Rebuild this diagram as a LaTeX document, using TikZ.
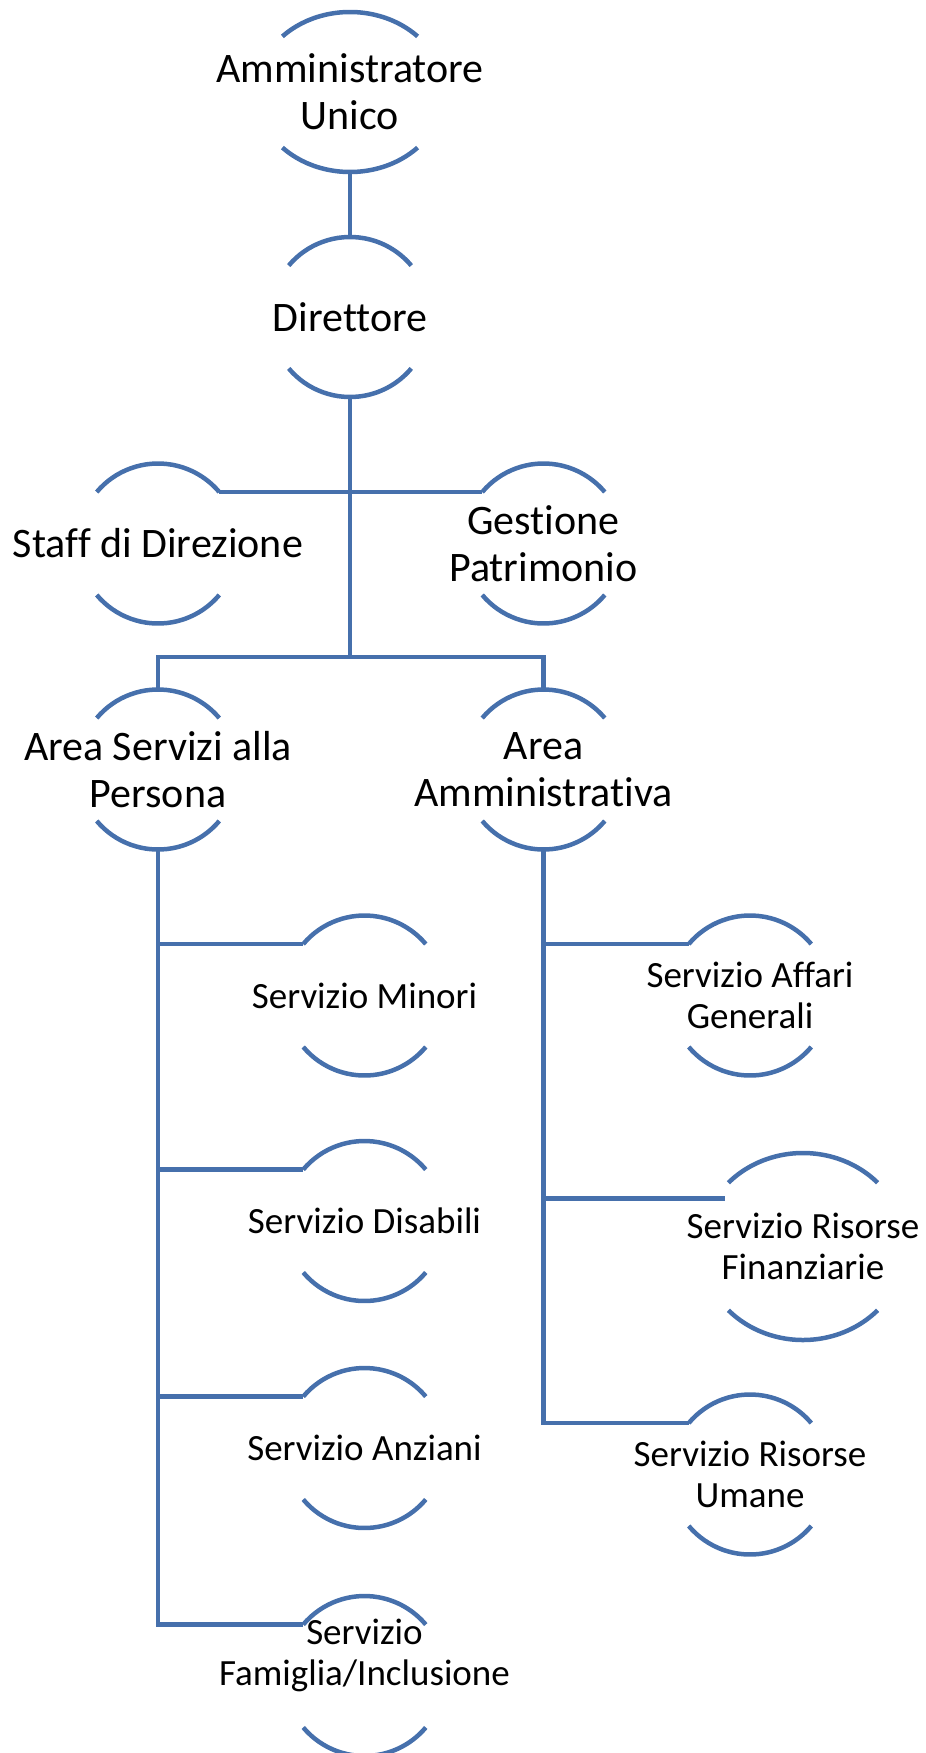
\documentclass[tikz,border=0pt]{standalone}
\usepackage{fontspec}
\setmainfont{Carlito}[Ligatures=NoCommon]
\usetikzlibrary{calc}

\definecolor{orgblue}{RGB}{70,112,172}

\tikzset{
  orgline/.style={line width=4.5pt, orgblue},
  unit/.style={font=\fontsize{42}{47}\selectfont, align=center, inner sep=0pt},
  service/.style={font=\fontsize{37}{41}\selectfont, align=center, inner sep=0pt}
}

% arcs of a unit: name, centre, x radius, y radius, angle
\newcommand{\unitarcs}[5]{%
  \coordinate (#1-c) at #2;
  \draw[orgline] ($(#1-c)+(180-#5:#3 and #4)$) coordinate (#1-tl)
    arc[start angle=180-#5, end angle=#5, x radius=#3, y radius=#4] coordinate (#1-tr);
  \draw[orgline] ($(#1-c)+(180+#5:#3 and #4)$)
    arc[start angle=180+#5, end angle=360-#5, x radius=#3, y radius=#4];
  \coordinate (#1-top) at ($(#1-c)+(0,#4)$);
  \coordinate (#1-bot) at ($(#1-c)+(0,-#4)$);
}

\begin{document}
\begin{tikzpicture}[x=1pt, y=1pt]
    \useasboundingbox (0,0) rectangle (926,-1753);

    % Vertice
    \node[unit] (amm) at (350,-92) {Amministratore\\Unico};
    \unitarcs{amm}{(amm.center)}{94}{80}{44}
    \node[unit] (dir) at (350,-317) {Direttore};
    \unitarcs{dir}{(dir.center)}{80}{80}{40}

    % Staff
    \node[unit] (staff) at (158,-543.5) {Staff di Direzione};
    \unitarcs{staff}{(staff.center)}{80}{80}{40}
    \node[unit] (gest) at (543.5,-543.5) {Gestione\\Patrimonio};
    \unitarcs{gest}{(gest.center)}{80}{80}{40}

    % Aree
    \node[unit] (asp) at (158,-769.5) {Area Servizi alla\\Persona};
    \unitarcs{asp}{(asp.center)}{80}{80}{40}
    \node[unit] (aam) at (543.5,-769.5) {Area\\Amministrativa};
    \unitarcs{aam}{(aam.center)}{80}{80}{40}

    % Servizi alla persona
    \node[service] (min) at (364.5,-995.5) {Servizio Minori};
    \unitarcs{min}{(min.center)}{80}{80}{40}
    \node[service] (dis) at (364.5,-1221) {Servizio Disabili};
    \unitarcs{dis}{(dis.center)}{80}{80}{40}
    \node[service] (anz) at (364.5,-1448) {Servizio Anziani};
    \unitarcs{anz}{(anz.center)}{80}{80}{40}
    \node[service] (fam) at (364.5,-1655) {Servizio\\Famiglia/Inclusione};
    \unitarcs{fam}{($(fam.center)+(0,-21)$)}{80}{80}{40}

    % Servizi amministrativi
    \node[service] (aff) at (750,-995.5) {Servizio Affari\\Generali};
    \unitarcs{aff}{(aff.center)}{80}{80}{40}
    \node[service] (fin) at (803,-1246.5) {Servizio Risorse\\Finanziarie};
    \unitarcs{fin}{(fin.center)}{102}{93.5}{43}
    \node[service] (uma) at (750,-1474.5) {Servizio Risorse\\Umane};
    \unitarcs{uma}{(uma.center)}{80}{80}{40}

    % Connections
    \coordinate (fork) at (350,-657);
    \coordinate (fin-in) at ($(fin-tl)+(-3,-16)$);
    \draw[orgline] (amm-bot) -- (dir-top);
    \draw[orgline] (dir-bot) -- (fork);
    \draw[orgline] (staff-tr) -- (gest-tl);
    \draw[orgline] (asp-top) |- (fork) -| (aam-top);
    \draw[orgline] (asp-bot) |- (min-tl);
    \draw[orgline] (asp-bot) |- (dis-tl);
    \draw[orgline] (asp-bot) |- (anz-tl);
    \draw[orgline] (asp-bot) |- (fam-tl);
    \draw[orgline] (aam-bot) |- (aff-tl);
    \draw[orgline] (aam-bot) |- (fin-in);
    \draw[orgline] (aam-bot) |- (uma-tl);
\end{tikzpicture}
\end{document}
